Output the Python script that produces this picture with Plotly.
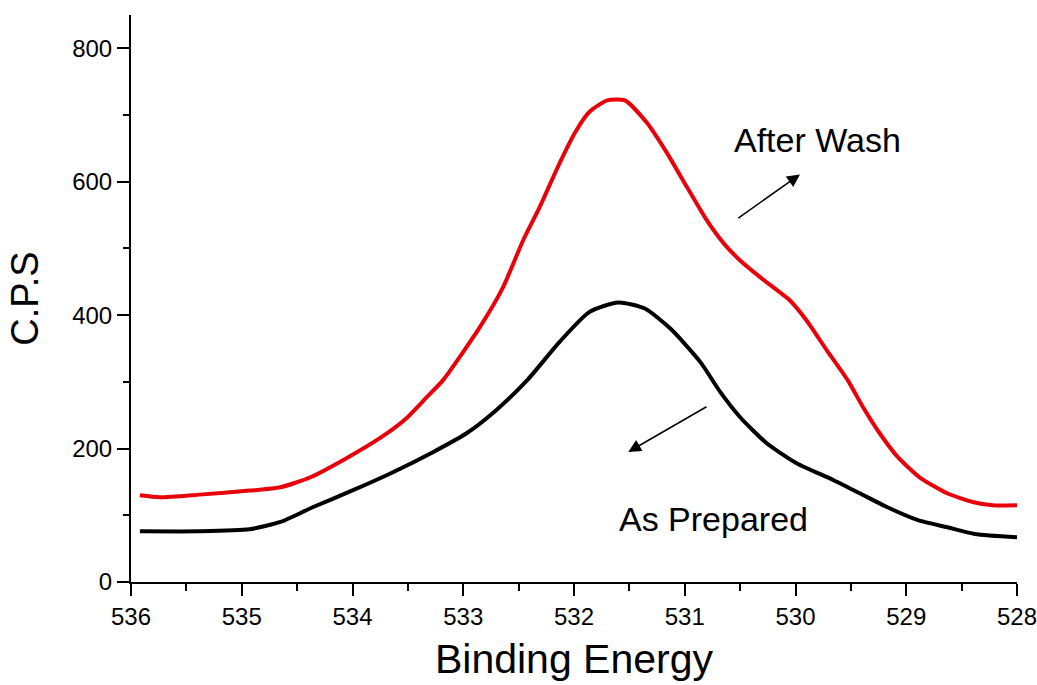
import plotly.graph_objects as go

# ---- data ----
after_wash_energy = [535.92, 535.74, 535.38, 534.93, 534.65, 534.38, 534.05, 533.75, 533.51, 533.33,
                     533.18, 532.85, 532.64, 532.46, 532.31, 532.13, 531.99, 531.86, 531.70, 531.54,
                     531.34, 531.16, 530.98, 530.80, 530.65, 530.50, 530.32, 530.05, 529.90, 529.72,
                     529.53, 529.39, 529.24, 529.08, 528.88, 528.63, 528.40, 528.22, 528.00]
after_wash_cps = [130, 127, 131, 137, 142, 157, 186, 216, 246, 277,
                  303, 382, 442, 512, 562, 628, 674, 705, 722, 722,
                  688, 643, 592, 542, 508, 482, 457, 422, 392, 348,
                  303, 262, 223, 188, 157, 133, 120, 115, 115]

as_prepared_energy = [535.92, 535.38, 534.93, 534.65, 534.36, 533.99, 533.63, 533.27, 532.97, 532.70,
                      532.42, 532.13, 531.86, 531.60, 531.36, 531.13, 530.86, 530.68, 530.50, 530.26,
                      529.99, 529.66, 529.42, 529.17, 528.90, 528.63, 528.38, 528.00]
as_prepared_cps = [76, 76, 79, 90, 112, 138, 165, 195, 223, 258,
                   303, 360, 405, 419, 410, 380, 330, 285, 247, 208,
                   178, 153, 133, 112, 93, 82, 72, 67]

y_tick_vals = [0, 200, 400, 600, 800]
x_tick_vals = [536, 535, 534, 533, 532, 531, 530, 529, 528]

FONT = "Arial, Liberation Sans, sans-serif"

fig = go.Figure()
fig.add_trace(go.Scatter(x=after_wash_energy, y=after_wash_cps, mode="lines",
                         line=dict(color="#e8000b", width=4, shape="spline", smoothing=0.6),
                         name="After Wash"))
fig.add_trace(go.Scatter(x=as_prepared_energy, y=as_prepared_cps, mode="lines",
                         line=dict(color="#000000", width=4, shape="spline", smoothing=0.6),
                         name="As Prepared"))

# text labels
fig.add_annotation(x=529.80, y=662, text="After Wash", showarrow=False, xref="x", yref="y",
                   font=dict(family=FONT, size=34, color="black"))
fig.add_annotation(x=530.74, y=95, text="As Prepared", showarrow=False, xref="x", yref="y",
                   font=dict(family=FONT, size=34, color="black"))
# arrows
fig.add_annotation(x=529.96, y=611, ax=530.53, ay=544, xref="x", yref="y", axref="x", ayref="y",
                   text="", showarrow=True, arrowhead=2, arrowsize=1.7, arrowwidth=1.5, arrowcolor="black")
fig.add_annotation(x=531.51, y=195, ax=530.79, ay=264, xref="x", yref="y", axref="x", ayref="y",
                   text="", showarrow=True, arrowhead=2, arrowsize=1.7, arrowwidth=1.5, arrowcolor="black")

fig.update_layout(
    width=1037, height=685,
    margin=dict(l=131, r=20, t=15, b=103),
    paper_bgcolor="white", plot_bgcolor="white",
    showlegend=False,
    font=dict(family=FONT, color="black"),
)
fig.update_xaxes(
    range=[536, 528], tickvals=x_tick_vals, ticktext=[str(v) for v in x_tick_vals],
    automargin=False, ticklabeloverflow="allow",
    showgrid=False, zeroline=False, showline=True, linecolor="black", linewidth=2,
    ticks="outside", ticklen=12, tickwidth=2, tickcolor="black",
    minor=dict(dtick=0.5, ticks="outside", ticklen=7, tickwidth=2, tickcolor="black", showgrid=False),
    tickfont=dict(family=FONT, size=24, color="black"),
    title=dict(text="Binding Energy", font=dict(family=FONT, size=41, color="black"), standoff=16),
)
fig.update_yaxes(
    range=[0, 850], tickvals=y_tick_vals,
    automargin=False, ticklabeloverflow="allow",
    showgrid=False, zeroline=False, showline=True, linecolor="black", linewidth=2,
    ticks="outside", ticklen=12, tickwidth=2, tickcolor="black",
    minor=dict(dtick=100, ticks="outside", ticklen=6, tickwidth=2, tickcolor="black", showgrid=False),
    tickfont=dict(family=FONT, size=24, color="black"),
    title=dict(text="C.P.S", font=dict(family=FONT, size=38, color="black"), standoff=22),
)

fig.write_html("out.html")
